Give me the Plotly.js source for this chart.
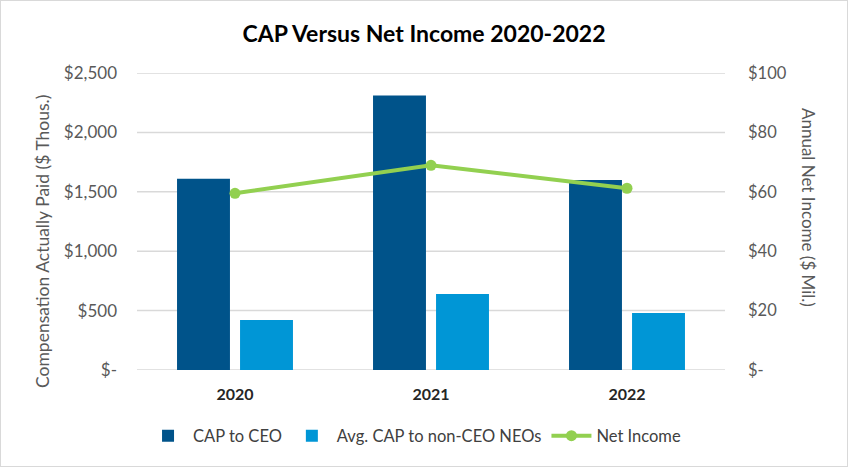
<!DOCTYPE html>
<html>
<head>
<meta charset="utf-8">
<script src="https://cdn.plot.ly/plotly-3.0.1.min.js"></script>
<style>
html,body{margin:0;padding:0;background:#fff;}
#chart{width:848px;height:467px;box-sizing:border-box;border:1px solid #d9d9d9;}
</style>
</head>
<body>
<div id="chart"></div>
<script>
const years = ['2020', '2021', '2022'];
const capCEO = [1610, 2310, 1600];
const capNonCEO = [420, 640, 480];
const netIncome = [59.5, 68.9, 61.2];
const leftTickVals = [0, 500, 1000, 1500, 2000, 2500];
const leftTickText = ['$-', '$500', '$1,000', '$1,500', '$2,000', '$2,500'];
const rightTickVals = [0, 20, 40, 60, 80, 100];
const rightTickText = ['$-', '$20', '$40', '$60', '$80', '$100'];

const font = 'Lato, "Open Sans", "Liberation Sans", sans-serif';

const data = [
  {type: 'bar', name: 'CAP to CEO', x: years, y: capCEO, marker: {color: '#00538A'}, yaxis: 'y'},
  {type: 'bar', name: 'Avg. CAP to non-CEO NEOs', x: years, y: capNonCEO, marker: {color: '#0096D6'}, yaxis: 'y'},
  {type: 'scatter', mode: 'lines+markers', name: 'Net Income', x: years, y: netIncome, yaxis: 'y2',
   line: {color: '#92D050', width: 4}, marker: {color: '#92D050', size: 11}}
];

const gridShapes = leftTickVals.map(v => ({
  type: 'line', xref: 'paper', yref: 'y', x0: 0, x1: 1, y0: v, y1: v,
  layer: 'below', line: {color: '#d9d9d9', width: 1.5}
}));

const layout = {
  width: 846, height: 465,
  margin: {l: 136, r: 122, t: 72, b: 96},
  paper_bgcolor: '#fff', plot_bgcolor: 'rgba(0,0,0,0)',
  font: {family: font, color: '#595959', size: 16},
  title: {text: '<b>CAP Versus Net Income 2020-2022</b>', font: {family: font, size: 23, color: '#000'}, x: 0.5, xanchor: 'center', y: 0.93, yanchor: 'middle'},
  barmode: 'group', bargap: 0.357, bargroupgap: 0.16,
  showlegend: true,
  legend: {orientation: 'h', x: 0.472, xanchor: 'center', y: -0.222, yanchor: 'middle', font: {family: font, size: 16.5, color: '#404040'}, traceorder: 'normal', itemwidth: 40},
  xaxis: {type: 'category', tickfont: {family: font, size: 16, color: '#262626'}, tickprefix: '<b>', ticksuffix: '</b>', showline: false, showgrid: false, ticks: '', ticklabelstandoff: 13},
  yaxis: {range: [0, 2500], tickvals: leftTickVals, ticktext: leftTickText, showgrid: false, zeroline: false, showline: false,
          ticks: '', ticklabelstandoff: 19, tickfont: {family: font, size: 17, color: '#595959'}},
  yaxis2: {range: [0, 100], tickvals: rightTickVals, ticktext: rightTickText, overlaying: 'y', side: 'right', showgrid: false, zeroline: false,
           ticks: '', ticklabelstandoff: 22, tickfont: {family: font, size: 16.5, color: '#595959'}},
  shapes: gridShapes,
  annotations: [
    {text: 'Compensation Actually Paid ($ Thous.)', xref: 'paper', yref: 'paper', x: (41 - 136) / 588, y: (370 - 241) / 297,
     xanchor: 'center', yanchor: 'middle', textangle: -90, showarrow: false, font: {family: font, size: 17.5, color: '#595959'}},
    {text: 'Annual Net Income ($ Mil.)', xref: 'paper', yref: 'paper', x: (807 - 136) / 588, y: (370 - 207) / 297,
     xanchor: 'center', yanchor: 'middle', textangle: 90, showarrow: false, font: {family: font, size: 17, color: '#595959'}}
  ]
};

Plotly.newPlot('chart', data, layout, {displayModeBar: false, staticPlot: true});
</script>
</body>
</html>
